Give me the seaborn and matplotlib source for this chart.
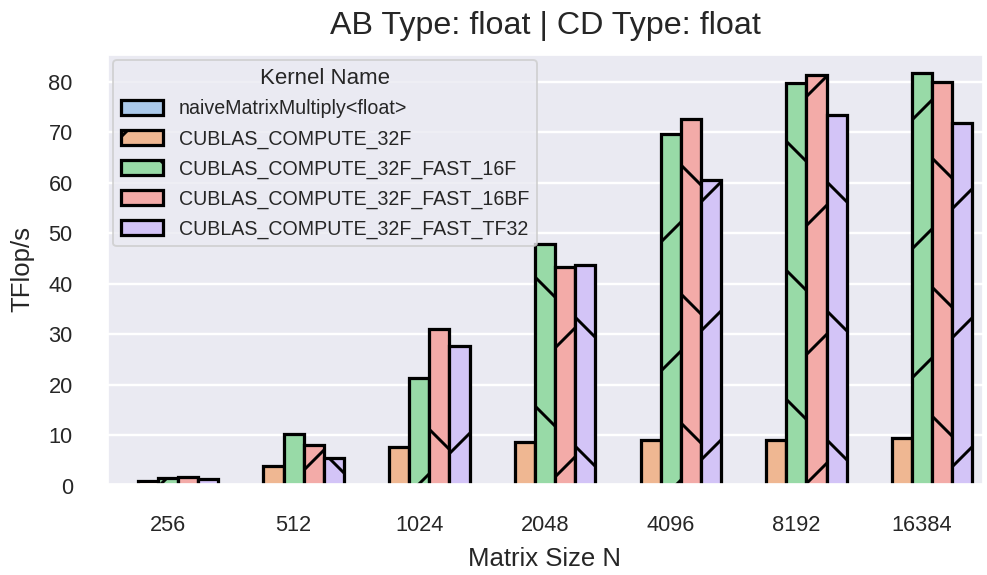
import matplotlib
matplotlib.use("Agg")
import matplotlib.pyplot as plt
import pandas as pd
import seaborn as sns

# Benchmark results: throughput (TFlop/s) per kernel and matrix size
sizes = ["256", "512", "1024", "2048", "4096", "8192", "16384"]
kernels = [
    "naiveMatrixMultiply<float>",
    "CUBLAS_COMPUTE_32F",
    "CUBLAS_COMPUTE_32F_FAST_16F",
    "CUBLAS_COMPUTE_32F_FAST_16BF",
    "CUBLAS_COMPUTE_32F_FAST_TF32",
]
naive_tflops = [0.05, 0.08, 0.09, 0.09, 0.09, 0.09, 0.09]
compute_32f = [1.0, 3.9, 7.75, 8.7, 9.1, 9.2, 9.5]
fast_16f = [1.6, 10.3, 21.3, 47.9, 69.6, 79.7, 81.8]
fast_16bf = [1.7, 8.2, 31.1, 43.3, 72.6, 81.4, 79.9]
fast_tf32 = [1.45, 5.5, 27.8, 43.7, 60.5, 73.4, 71.9]

series = [naive_tflops, compute_32f, fast_16f, fast_16bf, fast_tf32]
df = pd.DataFrame(
    [(k, n, v) for k, vals in zip(kernels, series) for n, v in zip(sizes, vals)],
    columns=["Kernel Name", "Matrix Size N", "TFlop/s"],
)

DPI = 387
W, H = 987, 575

sns.set_theme(style="darkgrid", palette="pastel")
plt.rcParams["font.family"] = ["Liberation Sans", "DejaVu Sans"]
plt.rcParams.update({
    "grid.linewidth": 0.45,
    "hatch.linewidth": 0.55,
    "patch.linewidth": 0.35,
    "xtick.major.size": 0,
    "ytick.major.size": 0,
    "xtick.major.pad": 5.4,
    "ytick.major.pad": 6.0,
    "xtick.labelsize": 4.05,
    "ytick.labelsize": 4.05,
    "axes.labelsize": 4.8,
    "axes.titlesize": 6.0,
})

fig = plt.figure(figsize=(W / DPI, H / DPI), dpi=DPI)
ax = fig.add_axes([105 / W, 1 - 486 / H, 880 / W, (486 - 52) / H])

sns.barplot(
    data=df, x="Matrix Size N", y="TFlop/s", hue="Kernel Name",
    order=sizes, hue_order=kernels, palette="pastel",
    edgecolor="black", linewidth=0.6, errorbar=None, ax=ax,
)

hatches = ["/", "\\"]
for i, bar in enumerate(ax.patches):
    bar.set_hatch(hatches[i % len(hatches)])

ax.legend(
    title="Kernel Name", loc="upper left", fontsize=3.65, title_fontsize=4.15,
    labelspacing=0.55, handlelength=2.15, handleheight=0.77,
    borderaxespad=0.4,
)
ax.set_title("AB Type: float | CD Type: float", pad=3.3)
ax.set_xlabel("Matrix Size N", labelpad=2.0)
ax.set_ylabel("TFlop/s", labelpad=2.6)

fig.savefig("out.png", dpi=DPI)
